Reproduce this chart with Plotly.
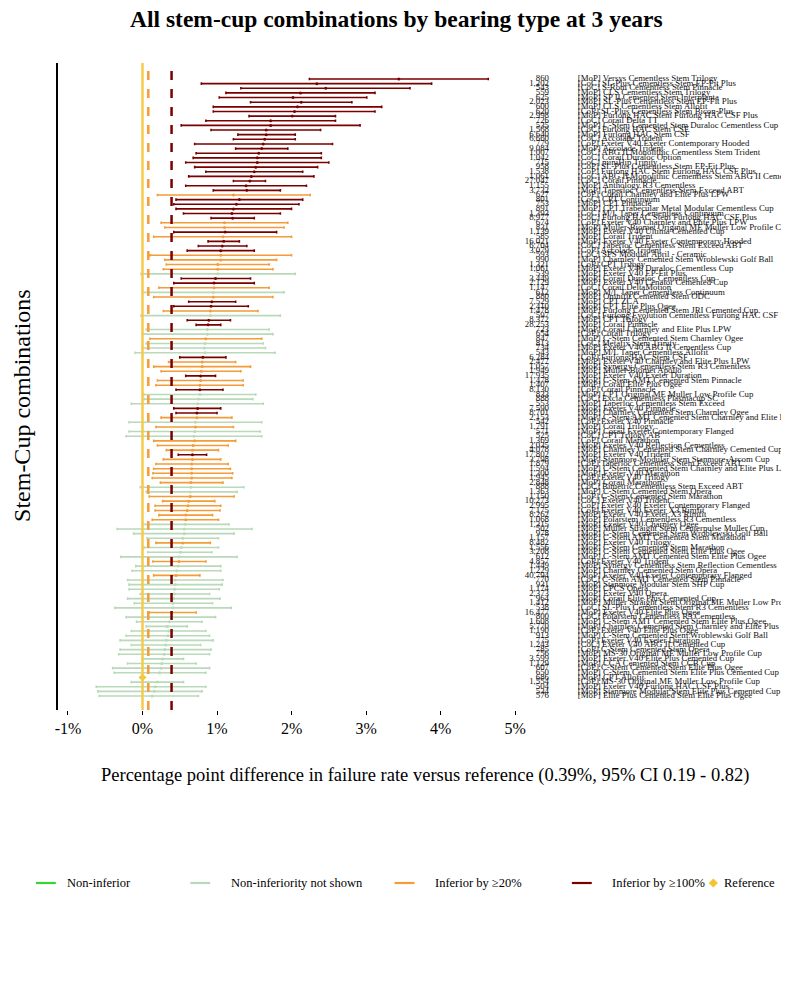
import plotly.graph_objects as go

names = [
"[MoP] Versys Cementless Stem Trilogy","[CoC] SL-Plus Cementless Stem EP-Fit Plus","[CoC] S-Rom Cementless Stem Pinnacle",
"[MoP] CLS Cementless Stem Trilogy","[MoP] SP II Cemented Stem Interplanta","[MoP] SL-Plus Cementless Stem EP-Fit Plus",
"[MoP] CLS Cementless Stem Allofit","[CoP] SL-Plus Cementless Stem Bicon-Plus","[MoP] Furlong HAC Stem Furlong HAC CSF Plus",
"[CoC] Corail Delta TT","[MoP] C-Stem Cemented Stem Duraloc Cementless Cup","[CoC] Furlong HAC Stem CSF",
"[MoP] Furlong HAC Stem CSF","[CoC] Accolade Trident","[CoP] Exeter V40 Exeter Contemporary Hooded",
"[MoP] Accolade Trident","[CoC] ABG II Monolithic Cementless Stem Trident","[CoC] Corail Duraloc Option",
"[CoC] miniHip Trinity","[CoP] SL-Plus Cementless Stem EP-Fit Plus","[CoP] Furlong HAC Stem Furlong HAC CSF Plus",
"[CoC] ABG II Monolithic Cementless Stem ABG II Cementless Cup","[CoC] Corail Pinnacle","[MoP] Anthology R3 Cementless",
"[MoP] Taperloc Cementless Stem Exceed ABT","[CoP] Corail Charnley and Elite Plus LPW","[CoC] CPT Continuum",
"[MoP] CPT Pinnacle","[MoP] CPT Trabecular Metal Modular Cementless Cup","[CoC] M/L Taper Cementless Continuum",
"[CoC] Furlong HAC Stem Furlong HAC CSF Plus","[CoP] Exeter V40 Charnley and Elite Plus LPW","[MoP] Muller-Biomet Original ME Muller Low Profile Cup",
"[MoP] Exeter V40 Ultima Cemented Cup","[MoP] Corail Trident","[MoP] Exeter V40 Exeter Contemporary Hooded",
"[CoC] Taperloc Cementless Stem Exceed ABT","[CoP] Accolade Trident","[CoC] SPS Modular April - Ceramic",
"[MoP] Charnley Cemented Stem Wroblewski Golf Ball","[CoP] CPT Trilogy","[MoP] Exeter V40 Duraloc Cementless Cup",
"[MoP] Exeter V40 EP-Fit Plus","[MoP] Corail Duraloc Cementless Cup","[MoP] Exeter V40 Cenator Cemented Cup",
"[CoC] Corail DeltaMotion","[MoP] M/L Taper Cementless Continuum","[MoP] Omnifit Cemented Stem ODC",
"[MoP] CPT ZCA","[MoP] CPT Elite Plus Ogee","[MoP] Furlong Cemented Stem JRI Cemented Cup",
"[CoC] Furlong Evolution Cementless Furlong HAC CSF Plus","[MoP] CPT Trilogy","[MoP] Corail Pinnacle",
"[MoP] Corail Charnley and Elite Plus LPW","[CoP] Corail Trilogy","[MoP] C-Stem Cemented Stem Charnley Ogee",
"[CoC] Metafix Stem Trinity","[MoP] Exeter V40 ABG II Cementless Cup","[MoP] M/L Taper Cementless Allofit",
"[CoP] Furlong HAC Stem CSF","[MoP] Exeter V40 Charnley and Elite Plus LPW","[MoP] Synergy Cementless Stem R3 Cementless",
"[MoP] Muller-Biomet Apollo","[MoP] Exeter V40 Exeter Duration","[MoP] C-Stem AMT Cemented Stem Pinnacle",
"[MoP] Corail Elite Plus Ogee","[CoP] Corail Pinnacle","[MoP] CPT Original ME Muller Low Profile Cup",
"[CoC] Excia Cementless Plasmacup SC","[MoP] Taperloc Cementless Stem Exceed","[MoP] Exeter V40 Pinnacle",
"[MoP] Charnley Cemented Stem Charnley Ogee","[MoP] C-Stem AMT Cemented Stem Charnley and Elite Plus LPW","[CoP] Exeter V40 Pinnacle",
"[MoP] Corail Trilogy","[MoP] Corail Exeter Contemporary Flanged","[CoC] CPT Trilogy AB",
"[CoP] Corail Marathon","[MoP] Exeter V40 Reflection Cementless","[MoP] Charnley Cemented Stem Charnley Cemented Cup",
"[MoP] Exeter V40 Trident","[MoP] Stanmore Modular Stem Stanmore-Arcom Cup","[CoP] Taperloc Cementless Stem Exceed ABT",
"[MoP] C-Stem Cemented Stem Charnley and Elite Plus LPW","[MoP] Exeter V40 Marathon","[CoP] Exeter V40 Trilogy",
"[MoP] Corail Marathon","[CoC] Bimetric Cementless Stem Exceed ABT","[MoP] C-Stem Cemented Stem Opera",
"[CoP] C-Stem Cemented Stem Marathon","[CoC] Exeter V40 Trident","[CoP] Exeter V40 Exeter Contemporary Flanged",
"[CoP] Exeter V40 Exeter X3 Rimfit","[MoP] Exeter V40 Exeter X3 Rimfit","[MoP] Polarstem Cementless R3 Cementless",
"[MoP] Exeter V40 Charnley Ogee","[MoP] Muller Straight Stem Centerpulse Muller Cup","[MoP] C-Stem Cemented Stem Wroblewski Golf Ball",
"[MoP] C-Stem AMT Cemented Stem Marathon","[MoP] Exeter V40 Trilogy","[MoP] C-Stem Cemented Stem Marathon",
"[MoP] C-Stem Cemented Stem Elite Plus Ogee","[MoP] C-Stem AMT Cemented Stem Elite Plus Ogee","[CoP] Exeter V40 Trident",
"[MoP] Synergy Cementless Stem Reflection Cementless","[MoP] Charnley Cemented Stem Opera","[MoP] Exeter V40 Exeter Contemporary Flanged",
"[CoC] C-Stem AMT Cemented Stem Pinnacle","[MoP] Stanmore Modular Stem SHP Cup","[MoP] CPCS Opera",
"[MoP] Exeter V40 Opera","[MoP] Corail Elite Plus Cemented Cup","[MoP] Muller Straight Stem Original ME Muller Low Profile Cup",
"[CoC] SL-Plus Cementless Stem R3 Cementless","[MoP] Exeter V40 Elite Plus Ogee","[CoC] Polarstem Cementless R3 Cementless",
"[MoP] C-Stem AMT Cemented Stem Elite Plus Ogee","[MoP] Charnley Cemented Stem Charnley and Elite Plus LPW","[CoP] Exeter V40 Elite Plus Ogee",
"[MoP] C-Stem Cemented Stem Wroblewski Golf Ball","[CoP] Exeter V40 Exeter Duration","[CoC] Exeter V40 ABG II Cemented Cup",
"[CoP] C-Stem Cemented Stem Opera","[MoP] MS-30 Original ME Muller Low Profile Cup","[MoP] Exeter V40 Elite Plus Cemented Cup",
"[MoP] CCA Cemented Stem CCB Cup","[CoP] C-Stem Cemented Stem Elite Plus Ogee","[MoP] C-Stem Cemented Stem Elite Plus Cemented Cup",
"[MoP] CPT Allofit","[CoP] MS-30 Original ME Muller Low Profile Cup","[MoP] Exeter V40 Furlong HAC CSF Plus",
"[MoP] Stanmore Modular Stem Elite Plus Cemented Cup","[MoP] Elite Plus Cemented Stem Elite Plus Ogee",
]

counts = [
"860","1,202","543","559","625","2,023","600","620","2,998","726","535","1,568","6,640","6,660","779","9,084","1,007","1,042",
"715","958","1,538","1,061","27,047","1,155","3,732","627","801","753","891","1,393","8,977","674","831","1,139","585","16,021",
"6,704","3,079","593","990","1,321","1,061","539","3,449","2,129","1,147","612","880","7,529","2,410","1,478","597","8,372","28,253",
"723","654","847","813","734","543","6,284","2,477","1,057","1,949","17,935","1,478","1,407","8,130","833","888","553","7,590",
"8,701","2,153","542","1,791","571","525","1,369","2,035","4,078","17,802","3,798","1,879","1,594","1,300","1,945","2,848","888",
"1,363","1,150","10,273","2,995","7,175","8,262","1,068","1,315","502","978","1,157","8,482","1,556","3,208","612","4,857","1,449",
"1,229","40,794","770","931","1,174","2,373","964","1,412","538","16,477","800","1,608","5,770","1,190","913","775","1,243","785",
"756","3,599","1,129","607","650","686","1,554","504","534","576",
]

# R = inferior by >=100%, O = inferior by >=20%, G = non-inferiority not shown, F = reference
cat = ["R"] * 25 + [
"O","R","R","R","R","R","O","O","R","O",
"R","R","R","O","O","O","O","G","R","R",
"O","G","O","R","R","O","G","R","R","G",
"G","O","G","G","G","R","O","O","O","R",
"O","O","R","G","G","G","R","R","O","G",
"O","G","G","O","O","O","R","O","O","O",
"O","O","O","G","G","O","O","O","O","O",
"O","G","G","G","G","O","G","G","G","O",
"G","G","O","G","G","G","G","G","G","G",
"O","G","G","G","G","G","G","G","G","G",
"G","G","G","G","F","G","G","G","G"]

# lower / upper 95% CI and point estimate, percentage points vs reference
lo = [2.24,0.79,1.32,1.12,1.03,1.45,0.95,0.95,1.43,0.85,0.52,0.92,1.28,1.22,0.70,1.25,0.72,0.68,0.58,0.70,0.85,0.62,1.22,0.58,0.95,
0.20,0.45,0.42,0.45,0.55,0.92,0.25,0.30,0.42,0.15,0.88,0.75,0.60,0.10,0.30,
0.32,0.28,-0.02,0.52,0.42,0.22,0.00,0.15,0.62,0.42,0.28,-0.02,0.60,0.72,0.05,
0.00,0.10,0.05,0.00,-0.10,0.50,0.35,0.15,0.25,0.58,0.20,0.18,0.45,0.02,0.02,
-0.15,0.42,0.45,0.25,-0.18,0.18,-0.18,-0.22,0.15,0.20,0.32,0.48,0.28,0.18,0.15,
0.14,0.13,0.24,-0.03,0.05,0.09,0.27,0.17,0.17,0.22,0.13,0.00,-0.34,-0.12,0.06,
0.18,0.02,0.07,-0.29,0.14,-0.09,-0.14,0.15,-0.20,-0.18,-0.18,-0.03,-0.20,-0.11,-0.37,
0.09,-0.22,-0.08,0.05,-0.15,-0.22,-0.30,-0.15,-0.30,-0.32,0.00,-0.20,-0.40,-0.38,0.00,
-0.15,-0.62,-0.60,-0.58]
hi = [4.64,3.88,3.59,3.12,3.01,2.81,3.21,3.12,2.59,2.59,2.92,2.39,2.05,2.05,2.55,1.95,2.40,2.40,2.50,2.35,2.15,2.30,1.65,2.20,1.85,
2.25,2.15,2.10,2.00,1.85,1.50,1.95,1.90,1.80,2.00,1.30,1.40,1.50,2.00,1.80,
1.70,1.75,2.05,1.45,1.50,1.70,1.90,1.75,1.25,1.42,1.55,1.85,1.18,1.05,1.70,
1.75,1.60,1.62,1.65,1.78,1.12,1.25,1.45,1.32,0.98,1.35,1.35,1.08,1.52,1.48,
1.62,1.05,1.00,1.20,1.60,1.22,1.58,1.60,1.25,1.15,1.02,0.86,1.05,1.15,1.18,
1.21,1.20,1.08,1.36,1.27,1.23,0.97,1.05,1.04,0.94,1.02,1.16,1.47,1.23,1.02,
0.91,1.02,0.93,1.27,0.85,1.05,1.05,0.77,1.08,1.07,1.03,0.90,1.04,0.94,1.19,
0.72,0.98,0.80,0.60,0.85,0.90,0.95,0.78,0.92,0.90,0.55,0.72,0.90,0.85,0.00,
0.55,0.85,0.80,0.75]
est = [3.44,2.34,2.46,2.12,2.02,2.13,2.08,2.04,2.01,1.72,1.72,1.66,1.66,1.64,1.62,1.60,1.56,1.54,1.54,1.52,1.50,1.46,1.44,1.39,1.40,
1.22,1.30,1.26,1.22,1.20,1.21,1.10,1.10,1.11,1.08,1.09,1.07,1.05,1.05,1.05,
1.01,1.01,1.01,0.98,0.96,0.96,0.95,0.95,0.93,0.92,0.91,0.91,0.89,0.88,0.87,
0.87,0.85,0.84,0.83,0.84,0.81,0.80,0.80,0.79,0.78,0.78,0.77,0.77,0.77,0.75,
0.74,0.74,0.73,0.73,0.71,0.71,0.70,0.69,0.70,0.68,0.67,0.67,0.67,0.66,0.66,
0.66,0.66,0.65,0.65,0.64,0.64,0.62,0.61,0.60,0.58,0.58,0.57,0.56,0.56,0.54,
0.54,0.52,0.51,0.49,0.49,0.48,0.46,0.45,0.44,0.44,0.43,0.43,0.42,0.41,0.41,
0.39,0.38,0.36,0.33,0.35,0.34,0.32,0.31,0.30,0.29,0.27,0.26,0.25,0.23,0.00,
0.20,0.17,0.16,0.13]

REF_PCT = 0.39
x_ticks = [-1, 0, 1, 2, 3, 4, 5]
x_tick_labels = ["-1%", "0%", "1%", "2%", "3%", "4%", "5%"]

colors = {"N": "#33d633", "G": "#b9d9b9", "O": "#f39c38", "R": "#7a0000", "F": "#f4c430"}
FONT = "Liberation Serif"

W, H = 789, 994
PX_L, PX_R, PX_T, PX_B = 47, 522, 55, 702       # main plotting box (pixels)
ZERO_PX, PX_PER_PCT = 132, 74.8
ROW0_PX, ROWN_PX = 71, 688

n = len(names)
ypos = list(range(n))
pitch = (ROWN_PX - ROW0_PX) / (n - 1)
y_range = [n - 1 + (PX_B - ROWN_PX) / pitch, -(ROW0_PX - PX_T) / pitch]
x_range = [(PX_L - ZERO_PX) / PX_PER_PCT, (PX_R - ZERO_PX) / PX_PER_PCT]

def fx(px): return px / W
def fy(py): return 1 - py / H

fig = go.Figure()
for key in ["G", "O", "R"]:
    idx = [i for i in range(n) if cat[i] == key]
    fig.add_trace(go.Scatter(
        x=[est[i] for i in idx], y=[ypos[i] for i in idx], mode="markers",
        marker=dict(color=colors[key], size=3),
        error_x=dict(type="data", symmetric=False,
                     array=[hi[i] - est[i] for i in idx],
                     arrayminus=[est[i] - lo[i] for i in idx],
                     color=colors[key], thickness=1.6, width=1.3),
        showlegend=False, hoverinfo="skip"))
ridx = [i for i in range(n) if cat[i] == "F"]
fig.add_trace(go.Scatter(x=[est[i] for i in ridx], y=[ypos[i] for i in ridx], mode="markers",
                         marker=dict(symbol="diamond", color=colors["F"], size=6),
                         showlegend=False, hoverinfo="skip"))

# row labels on a text axis to the right of the plot
fig.add_trace(go.Scatter(x=[540] * n, y=ypos, xaxis="x3", yaxis="y", mode="text", text=counts,
                         textposition="middle left", cliponaxis=False,
                         textfont=dict(size=8.8, family=FONT, color="#111"), showlegend=False, hoverinfo="skip"))
fig.add_trace(go.Scatter(x=[569] * n, y=ypos, xaxis="x3", yaxis="y", mode="text", text=names,
                         textposition="middle right", cliponaxis=False,
                         textfont=dict(size=8.8, family=FONT, color="#111"), showlegend=False, hoverinfo="skip"))

# reference lines
fig.add_vline(x=0, line=dict(color="#f7c948", width=2.5))
fig.add_vline(x=REF_PCT * 0.2, line=dict(color="#f39c38", width=2.5, dash="dash"))
fig.add_vline(x=REF_PCT, line=dict(color="#7a0000", width=2.5, dash="dash"))

# drawn legend on a full-figure pixel overlay
LY = 875
leg_items = [("Non-inferior", "N", 25, 54), ("Non-inferiority not shown", "G", 180, 219),
             ("Inferior by ≥20%", "O", 385, 424), ("Inferior by ≥100%", "R", 563, 601)]
ann = []
for label, key, x0, tx in leg_items:
    fig.add_trace(go.Scatter(x=[x0, x0 + 20], y=[LY, LY], xaxis="x2", yaxis="y2", mode="lines",
                             line=dict(color=colors[key], width=2.2), showlegend=False, hoverinfo="skip"))
    ann.append(dict(x=fx(tx), y=fy(LY), xref="paper", yref="paper", text=label, showarrow=False,
                    xanchor="left", yanchor="middle", font=dict(size=12.5, family=FONT, color="#000")))
fig.add_trace(go.Scatter(x=[705], y=[LY], xaxis="x2", yaxis="y2", mode="markers",
                         marker=dict(symbol="diamond", color=colors["F"], size=7),
                         showlegend=False, hoverinfo="skip"))
ann.append(dict(x=fx(714), y=fy(LY), xref="paper", yref="paper", text="Reference", showarrow=False,
                xanchor="left", yanchor="middle", font=dict(size=12.5, family=FONT, color="#000")))

ann.append(dict(x=fx(387), y=fy(11), xref="paper", yref="paper", xanchor="center", yanchor="middle",
                text="<b>All stem-cup combinations by bearing type at 3 years</b>", showarrow=False,
                font=dict(size=23.5, family=FONT, color="#000")))
ann.append(dict(x=fx(11), y=fy(397), xref="paper", yref="paper", text="Stem-Cup combinations",
                textangle=-90, showarrow=False, font=dict(size=24, family=FONT, color="#000"),
                xanchor="center", yanchor="middle"))
ann.append(dict(x=fx(416), y=fy(767), xref="paper", yref="paper", yanchor="middle", xanchor="center",
                text="Percentage point difference in failure rate versus reference (0.39%, 95% CI 0.19 - 0.82)",
                showarrow=False, font=dict(size=18.5, family=FONT, color="#000")))

fig.update_layout(
    width=W, height=H, margin=dict(l=0, r=0, t=0, b=0),
    paper_bgcolor="white", plot_bgcolor="rgba(0,0,0,0)", showlegend=False,
    xaxis=dict(domain=[fx(PX_L), fx(PX_R)], range=x_range, tickvals=x_ticks, ticktext=x_tick_labels,
               showgrid=False, zeroline=False, ticks="outside", ticklen=4, tickcolor="#000", showline=False,
               tickfont=dict(size=16, family=FONT, color="#000"), anchor="y"),
    yaxis=dict(domain=[fy(PX_B), fy(PX_T)], range=y_range, showticklabels=False, showgrid=False,
               zeroline=False, showline=True, linecolor="#000", linewidth=1.5, ticks="", anchor="x"),
    xaxis3=dict(domain=[fx(PX_R), 1], range=[PX_R, W], visible=False, anchor="y"),
    xaxis2=dict(domain=[0, 1], range=[0, W], visible=False, anchor="y2"),
    yaxis2=dict(domain=[0, 1], range=[H, 0], visible=False, anchor="x2"),
    annotations=ann,
)
fig.write_html("out.html")
